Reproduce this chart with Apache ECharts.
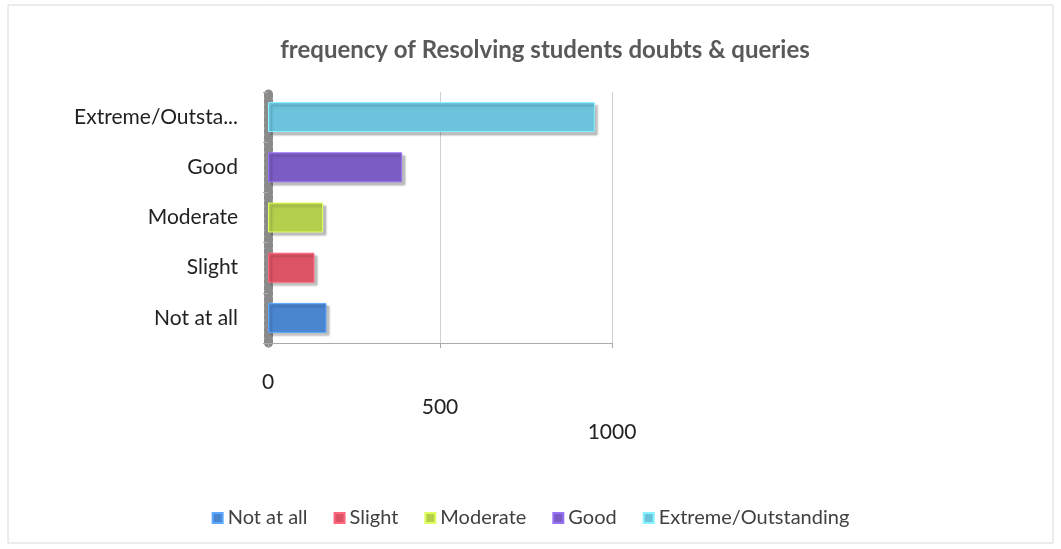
<!DOCTYPE html>
<html>
<head>
<meta charset="utf-8">
<script src="https://cdn.jsdelivr.net/npm/echarts@6/dist/echarts.min.js"></script>
<style>
  html, body { margin: 0; padding: 0; background: #fff; }
  #chart { width: 1061px; height: 549px; }
</style>
</head>
<body>
<div id="chart"></div>
<script>
var categories = ['Not at all', 'Slight', 'Moderate', 'Good', 'Extreme/Outstanding'];
var values = [170, 135, 160, 390, 950];
var colors = ['#4a86d0', '#dc5366', '#b3cf4c', '#7b5cc4', '#6cc3dc'];
var xTicks = [0, 500, 1000];

var chartDom = document.getElementById('chart');
var myChart = echarts.init(chartDom);
var option;

// one series per category so the legend shows each one
var series = categories.map(function (name, i) {
    var data = categories.map(function (c, j) { return j === i ? values[i] : null; });
    return {
        name: name,
        type: 'bar',
        stack: 'all',
        barWidth: 30,
        data: data,
        itemStyle: {
            color: colors[i],
            borderColor: echarts.color.lift(colors[i], -0.25),
            borderWidth: 1,
            shadowColor: 'rgba(0,0,0,0.25)',
            shadowOffsetX: 3,
            shadowOffsetY: 3,
            shadowBlur: 2
        }
    };
});

option = {
    backgroundColor: '#fff',
    textStyle: { fontFamily: 'Lato' },
    title: {
        text: 'frequency of Resolving students doubts & queries',
        left: 540,
        textAlign: 'center',
        top: 33,
        textStyle: { fontSize: 24, fontWeight: 'bold', color: '#595959', fontFamily: 'Lato' }
    },
    legend: {
        bottom: 16,
        left: 'center',
        itemWidth: 10,
        itemHeight: 10,
        itemGap: 26,
        icon: 'rect',
        textStyle: { fontSize: 20, color: '#404040', fontFamily: 'Lato' },
        data: categories
    },
    grid: { left: 268, right: 449, top: 92, bottom: 206 },
    xAxis: {
        type: 'value',
        min: 0,
        max: 1000,
        interval: 500,
        axisLine: { show: true, lineStyle: { color: '#aaa' } },
        axisTick: { show: true, lineStyle: { color: '#aaa' } },
        splitLine: { show: true, lineStyle: { color: '#d0d0d0' } },
        axisLabel: {
            fontSize: 21,
            lineHeight: 25,
            color: '#222',
            margin: 27,
            formatter: function (v) {
                var k = xTicks.indexOf(v);
                return new Array(k + 1).join('\n') + v;
            }
        }
    },
    yAxis: {
        type: 'category',
        data: categories,
        axisLine: { show: true, lineStyle: { color: '#8a8a8a', width: 9, type: [3, 3] } },
        axisTick: { show: true, lineStyle: { color: '#aaa' } },
        axisLabel: {
            fontSize: 21,
            color: '#222',
            margin: 30,
            formatter: function (v) {
                return v.length > 15 ? v.slice(0, 14) + '...' : v;
            }
        }
    },
    graphic: [{
        type: 'rect',
        shape: { x: 8, y: 5, width: 1045, height: 538 },
        style: { fill: 'none', stroke: '#d9d9d9', lineWidth: 1 }
    }],
    series: series
};

option && myChart.setOption(option);
</script>
</body>
</html>
